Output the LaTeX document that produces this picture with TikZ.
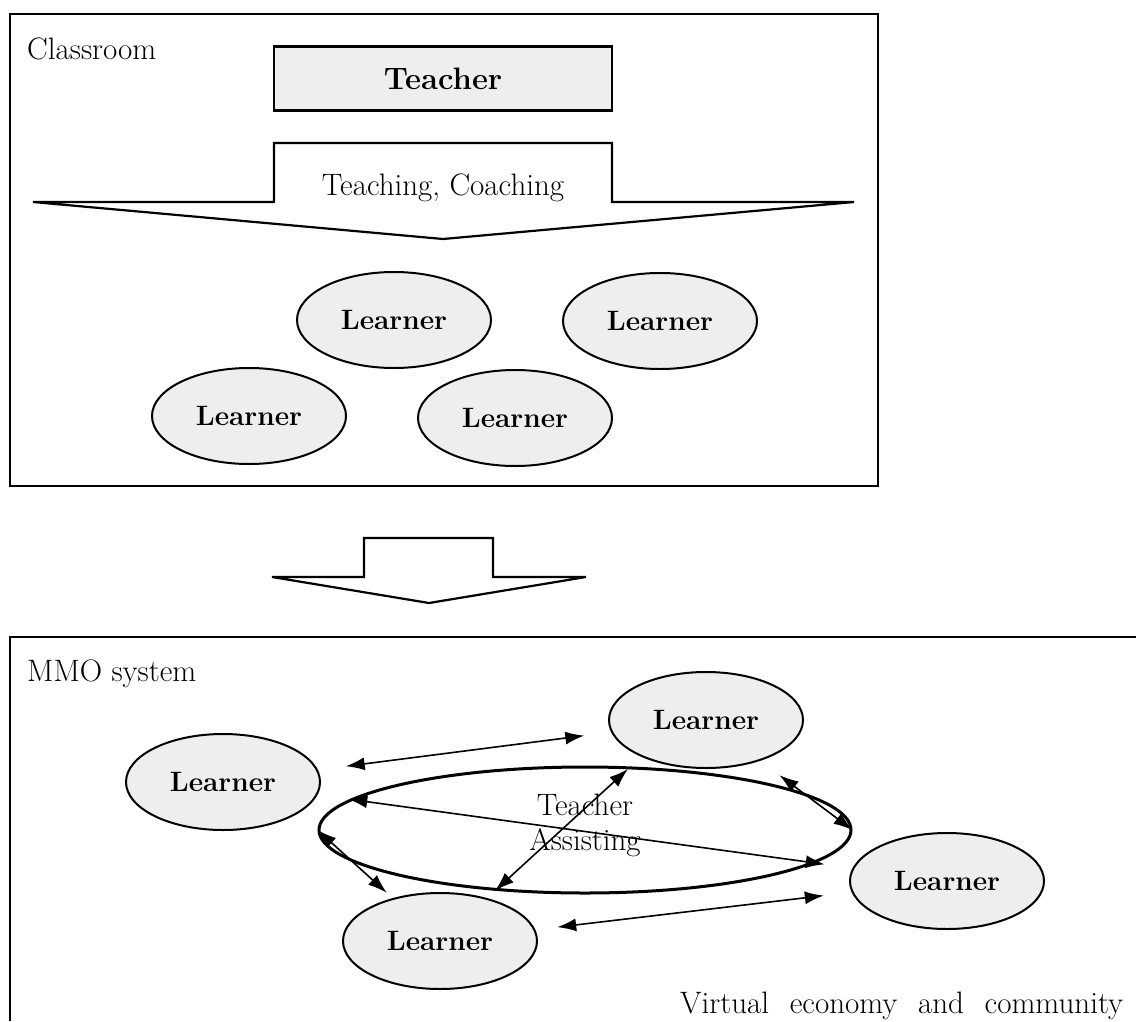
\documentclass[tikz,border=0pt]{standalone}
\usepackage{fontspec}
\usetikzlibrary{shapes.geometric,arrows.meta}
\begin{document}
\begin{tikzpicture}[x=1pt,y=-1pt,
  frame/.style={line width=2.2pt},
  learner/.style={ellipse, draw, line width=2pt, fill=gray!13, minimum width=194pt, minimum height=96pt, inner sep=0pt, font=\fontsize{28}{32}\selectfont\bfseries},
  lbl/.style={font=\fontsize{31}{35}\selectfont, inner sep=0pt},
  link/.style={line width=1.6pt, {Latex[length=19pt,width=13pt]}-{Latex[length=19pt,width=13pt]}},
  bigarrow/.style={line width=2.2pt, line join=miter}
]
\useasboundingbox (0,0) rectangle (1136,1021);

% ---------- Classroom ----------
\draw[frame] (10,14) rectangle (878,486);
\node[lbl, anchor=base west] (classroom) at (27,59) {Classroom};
\node[draw, line width=2.2pt, fill=gray!13, minimum width=338pt, minimum height=64pt, inner sep=0pt,
      font=\fontsize{31}{34}\selectfont\bfseries] (teacher) at (443,78.5) {Teacher};
\draw[bigarrow] (274,143) -- (612,143) -- (612,202) -- (854,202) -- (443,239) -- (33,202) -- (274,202) -- cycle;
\node[lbl, anchor=base] (teach) at (443,195) {Teaching, Coaching};

\node[learner] (L1) at (394,320) {Learner};
\node[learner] (L2) at (660,321) {Learner};
\node[learner] (L3) at (249,416) {Learner};
\node[learner] (L4) at (515,418) {Learner};

% ---------- transition arrow ----------
\draw[bigarrow] (364,538) -- (493,538) -- (493,577) -- (586,577) -- (429,603) -- (272,577) -- (364,577) -- cycle;

% ---------- MMO system ----------
\draw[frame] (1136,637) -- (10,637) -- (10,1021);
\node[lbl, anchor=base west] (mmo) at (27,681) {MMO system};

\node[ellipse, draw, line width=3pt, minimum width=532pt, minimum height=126pt, inner sep=0pt] (cen) at (585,830) {};
\node[lbl, align=center] (assist) at (585,825) {Teacher\\Assisting};

\node[learner] (LA) at (223,782) {Learner};
\node[learner] (LB) at (706,720) {Learner};
\node[learner] (LC) at (947,881) {Learner};
\node[learner] (LD) at (440,941) {Learner};

\coordinate (a3t) at (628,769);

\draw[link, shorten <=28pt, shorten >=27pt] (LA) -- (LB);
\draw[link, shorten <=31pt, shorten >=28pt] (LA) -- (LC);
\draw[link, shorten <=22pt, shorten >=28pt] (LD) -- (LC);
\draw[link, shorten >=8pt] (cen.west) -- (LD);
\draw[link, shorten <=24pt] (LB) -- (cen.east);
\draw[link, shorten <=11pt] (LD) -- (a3t);

\node[lbl, anchor=base west] (virt) at (680,1013) {\makebox[443pt][s]{Virtual economy and community}};
\end{tikzpicture}
\end{document}
